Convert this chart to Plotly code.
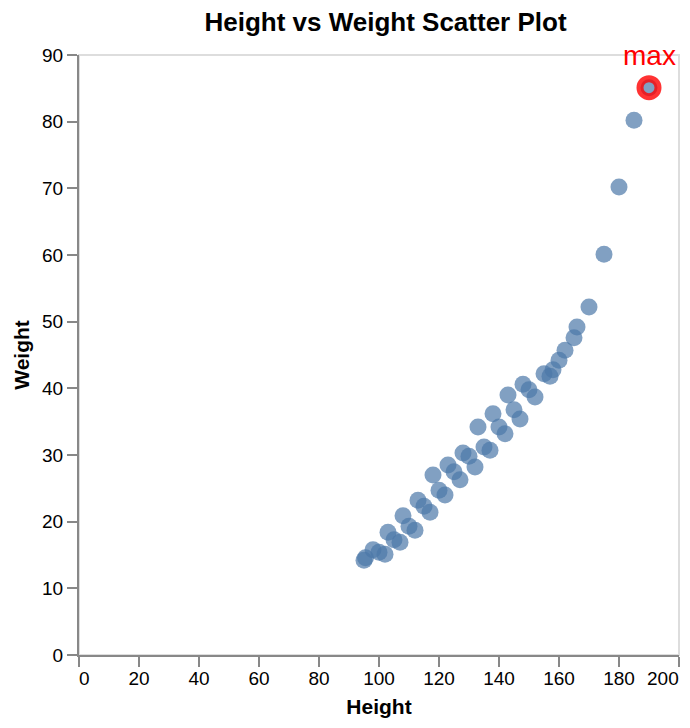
import plotly.graph_objects as go

# values
height = [95, 95.5, 98, 100, 102, 103, 105, 107, 108, 110, 112, 113, 115, 117,
          118, 120, 122, 123, 125, 127, 128, 130, 132, 133, 135, 137, 138, 140,
          142, 143, 145, 147, 148, 150, 152, 155, 157, 158, 160, 162, 165, 166,
          170, 175, 180, 185, 190]
weight = [14.2, 14.6, 15.8, 15.4, 15.1, 18.4, 17.3, 16.9, 20.9, 19.3, 18.7, 23.2,
          22.3, 21.4, 27.0, 24.7, 24.0, 28.5, 27.5, 26.3, 30.3, 29.8, 28.2, 34.2,
          31.2, 30.7, 36.2, 34.2, 33.2, 39.0, 36.8, 35.4, 40.6, 39.8, 38.7, 42.2,
          41.8, 42.8, 44.2, 45.7, 47.6, 49.2, 52.2, 60.1, 70.2, 80.2, 85.1]
x_ticks = [0, 20, 40, 60, 80, 100, 120, 140, 160, 180, 200]
y_ticks = [0, 10, 20, 30, 40, 50, 60, 70, 80, 90]

i_max = weight.index(max(weight))
font = "Liberation Sans, Arial, sans-serif"
axis_grey = "#888888"

fig = go.Figure()
fig.add_trace(go.Scatter(
    x=height, y=weight, mode="markers",
    marker=dict(size=17, color="#4c78a8", opacity=0.7, line=dict(width=0)),
    hoverinfo="x+y", showlegend=False))

# ring + label on the heaviest point
fig.add_trace(go.Scatter(
    x=[height[i_max]], y=[weight[i_max]], mode="markers",
    marker=dict(size=18, color="rgba(0,0,0,0)",
                line=dict(color="rgba(255,0,0,0.8)", width=7)),
    hoverinfo="skip", showlegend=False))
fig.add_annotation(x=height[i_max], y=weight[i_max], text="max", showarrow=False,
                   yanchor="bottom", yshift=15, font=dict(size=28, color="red", family=font))

# vega-style flush labels at both ends of the x axis
x_text = [str(v) for v in x_ticks]
x_text[0] = ""
x_text[-1] = ""
fig.add_annotation(x=x_ticks[0], y=0, yref="paper", text=str(x_ticks[0]), showarrow=False,
                   xanchor="left", yanchor="top", yshift=-11, xshift=-2,
                   font=dict(size=19, color="black", family=font))
fig.add_annotation(x=x_ticks[-1], y=0, yref="paper", text=str(x_ticks[-1]), showarrow=False,
                   xanchor="right", yanchor="top", yshift=-11, xshift=2,
                   font=dict(size=19, color="black", family=font))

# light frame around the plot area
fig.add_shape(type="rect", xref="paper", yref="paper", x0=0, y0=0, x1=1, y1=1,
              line=dict(color="#dddddd", width=2), layer="below")

fig.update_xaxes(range=[0, 200], tickvals=x_ticks, ticktext=x_text,
                 showgrid=False, zeroline=False, showline=True, linecolor=axis_grey,
                 linewidth=2, ticks="outside", ticklen=10, tickwidth=2, tickcolor=axis_grey,
                 ticklabelstandoff=-5,
                 tickfont=dict(size=19, color="black", family=font),
                 title=dict(text="Height", standoff=12,
                            font=dict(size=21, color="black", family=font, weight="bold")))
fig.update_yaxes(range=[0, 90], tickvals=y_ticks,
                 showgrid=False, zeroline=False, showline=True, linecolor=axis_grey,
                 linewidth=2, ticks="outside", ticklen=10, tickwidth=2, tickcolor=axis_grey,
                 tickfont=dict(size=19, color="black", family=font),
                 title=dict(text="Weight", standoff=7,
                            font=dict(size=21, color="black", family=font, weight="bold")))

# page body has an 8px margin, so the figure is 8px smaller and margins shifted
fig.update_layout(
    width=682, height=720,
    margin=dict(l=71, r=11, t=47, b=73),
    plot_bgcolor="white", paper_bgcolor="white",
    title=dict(text="Height vs Weight Scatter Plot", x=377.5 / 682, xanchor="center",
               y=1 - 14 / 720, yanchor="middle",
               font=dict(size=26, color="black", family=font, weight="bold")),
)

fig.write_html("out.html")
